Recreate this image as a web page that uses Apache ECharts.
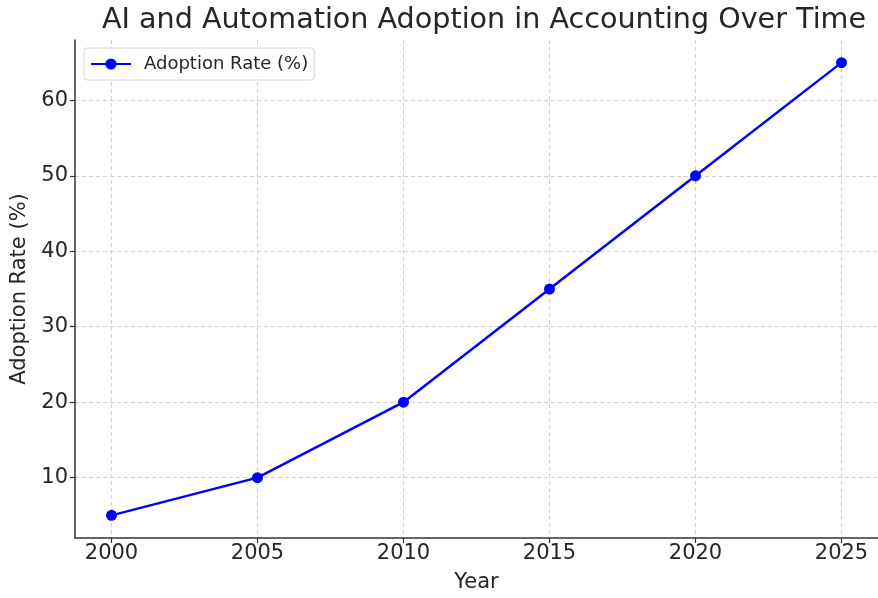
<!DOCTYPE html>
<html>
<head>
<meta charset="utf-8">
<script src="https://cdn.jsdelivr.net/npm/echarts@6/dist/echarts.min.js"></script>
<style>
  html, body { margin: 0; padding: 0; background: #fff; }
  #chart { width: 878px; height: 598px; }
</style>
</head>
<body>
<div id="chart"></div>
<script>
// Adoption of AI and automation tools in accounting, by year
const years = [2000, 2005, 2010, 2015, 2020, 2025];
const adoptionRate = [5, 10, 20, 35, 50, 65];
const xTicks = [2000, 2005, 2010, 2015, 2020, 2025];
const yTicks = [10, 20, 30, 40, 50, 60];

const FONT = 'DejaVu Sans';
const TEXT = '#262626';
const AXIS = '#333333';
const GRID = '#d0d0d0';

const chart = echarts.init(document.getElementById('chart'), null, { renderer: 'canvas' });

chart.setOption({
  animation: false,
  backgroundColor: '#ffffff',
  textStyle: { fontFamily: FONT },
  title: {
    text: 'AI and Automation Adoption in Accounting Over Time',
    left: 479,
    top: 1,
    textAlign: 'center',
    textStyle: { fontFamily: FONT, fontSize: 28.6, fontWeight: 'normal', color: TEXT }
  },
  legend: {
    left: 84,
    top: 48,
    orient: 'vertical',
    data: ['Adoption Rate (%)'],
    itemWidth: 40,
    itemHeight: 14,
    itemGap: 6,
    padding: [7, 6, 7, 6],
    borderColor: '#d6d6d6',
    borderWidth: 1,
    borderRadius: 3,
    backgroundColor: 'rgba(255,255,255,0.85)',
    textStyle: { fontFamily: FONT, fontSize: 18, color: TEXT, padding: [0, 0, 0, 8] }
  },
  grid: {
    left: 75,
    top: 40,
    width: 811,
    height: 503,
    containLabel: false
  },
  xAxis: {
    type: 'value',
    min: 1998.75,
    max: 2026.25,
    name: 'Year',
    nameLocation: 'middle',
    nameGap: 34,
    nameTextStyle: { fontFamily: FONT, fontSize: 21, color: TEXT },
    axisLine: { show: true, lineStyle: { color: AXIS, width: 1.5 } },
    axisTick: { show: true, inside: false, length: 5, customValues: xTicks, lineStyle: { color: AXIS, width: 1.2 } },
    axisLabel: { customValues: xTicks, fontFamily: FONT, fontSize: 21, color: TEXT, margin: 5, formatter: v => String(v) },
    splitLine: { show: true, lineStyle: { color: GRID, type: [4, 3], width: 1 } }
  },
  yAxis: {
    type: 'value',
    min: 2,
    max: 68,
    name: 'Adoption Rate (%)',
    nameLocation: 'middle',
    nameGap: 44,
    nameRotate: 90,
    nameTextStyle: { fontFamily: FONT, fontSize: 21, color: TEXT },
    axisLine: { show: true, lineStyle: { color: AXIS, width: 1.5 } },
    axisTick: { show: true, inside: false, length: 5, customValues: yTicks, lineStyle: { color: AXIS, width: 1.2 } },
    axisLabel: { customValues: yTicks, fontFamily: FONT, fontSize: 21, color: TEXT, margin: 7 },
    splitLine: { show: true, lineStyle: { color: GRID, type: [4, 3], width: 1 } }
  },
  series: [{
    name: 'Adoption Rate (%)',
    type: 'line',
    data: years.map((y, i) => [y, adoptionRate[i]]),
    symbol: 'circle',
    symbolSize: 11,
    lineStyle: { color: '#0000ff', width: 2.5 },
    itemStyle: { color: '#0000ff' },
    clip: false
  }]
});
</script>
</body>
</html>
